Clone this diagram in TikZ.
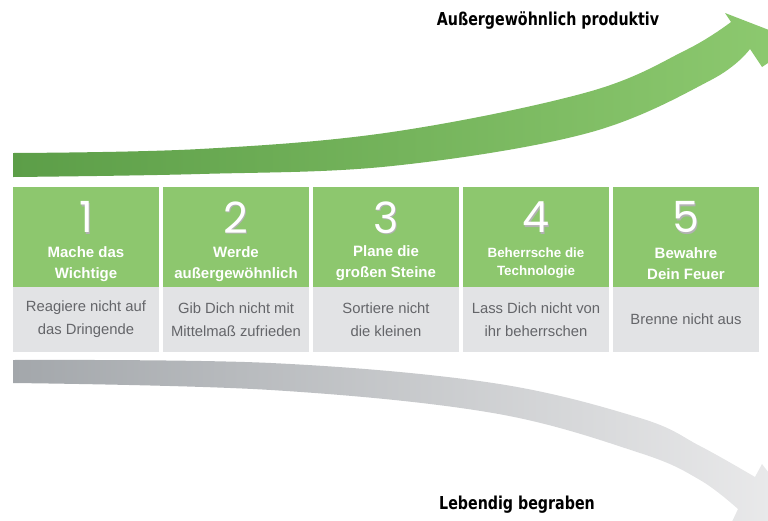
\documentclass[tikz,border=0pt]{standalone}
\usepackage{fontspec}
\setmainfont{Liberation Sans}
\newfontfamily\numfont{Poppins}
\newfontfamily\headfont{DejaVu Sans}[FakeStretch=0.8]
\definecolor{boxgreen}{RGB}{141,199,110}
\definecolor{boxgrey}{RGB}{226,227,229}
\definecolor{greytext}{RGB}{100,101,105}
\definecolor{arrgreenA}{RGB}{92,158,72}
\definecolor{arrgreenB}{RGB}{142,202,112}
\definecolor{arrgreyA}{RGB}{163,167,171}
\definecolor{arrgreyB}{RGB}{236,236,237}
\newcommand{\shadowdigit}[1]{\rlap{\hspace{1.2pt}\raisebox{-1.2pt}{\textcolor{black!30}{#1}}}#1}
\begin{document}
\begin{tikzpicture}[x=1pt,y=-1pt,
  greenbox/.style={fill=boxgreen, minimum width=146pt, minimum height=100pt, inner sep=0pt, draw=none},
  greybox/.style={fill=boxgrey, minimum width=146pt, minimum height=65pt, inner sep=0pt, text=greytext,
     font=\fontsize{14.8}{23}\selectfont, align=center},
  numtxt/.style={text=white, inner sep=0pt, font=\numfont\fontsize{43}{43}\selectfont},
  titletxt/.style={text=white, inner sep=0pt, font=\bfseries\fontsize{15}{21}\selectfont, align=center},
  headtxt/.style={text=black, inner sep=0pt, font=\headfont\bfseries\fontsize{17.8}{18}\selectfont}
]
\useasboundingbox (0,0) rectangle (768,520);
\clip (0,0) rectangle (768,520);

% green rising arrow
\path[left color=arrgreenA, right color=arrgreenB]
  plot[smooth, tension=0.6] coordinates {(13,153) (200,149) (392,132) (588,92) (686,50) (731,22)}
  -- (725,13) -- (800,42) -- (762,67) -- (750,49)
  -- plot[smooth, tension=0.6] coordinates {(750,49) (711,80) (588,133) (392,166) (200,174) (13,177)}
  -- cycle;

% grey falling arrow
\path[left color=arrgreyA, right color=arrgreyB]
  plot[smooth, tension=0.6] coordinates {(13,360) (271,363) (493,383) (640,418) (700,446) (755,477)}
  -- (762,464) -- (805,520) -- (730,526) -- (738,509)
  -- plot[smooth, tension=0.6] coordinates {(738,509) (700,480) (640,453) (493,413) (271,390) (13,383)}
  -- cycle;

% boxes
\foreach \i/\x in {1/86,2/236,3/386,4/536,5/686}{
  \node[greenbox] (g\i) at (\x,237) {};
  \node[numtxt] (n\i) at (\x,218) {\shadowdigit{\i}};
}
\node[titletxt] (t1) at (86,264.5) {Mache das\\Wichtige};
\node[titletxt] (t2) at (236,264.5) {Werde\\außergewöhnlich};
\node[titletxt] (t3) at (386,263) {Plane die\\großen Steine};
\node[titletxt, font=\bfseries\fontsize{13.4}{18}\selectfont] (t4) at (536,263) {Beherrsche die\\Technologie};
\node[titletxt] (t5) at (686,264) {Bewahre\\Dein Feuer};

\node[greybox] (r1) at (86,319.5) {Reagiere nicht auf\\das Dringende};
\node[greybox] (r2) at (236,319.5) {Gib Dich nicht mit\\Mittelmaß zufrieden};
\node[greybox] (r3) at (386,319.5) {Sortiere nicht\\die kleinen};
\node[greybox] (r4) at (536,319.5) {Lass Dich nicht von\\ihr beherrschen};
\node[greybox] (r5) at (686,319.5) {Brenne nicht aus};

% labels
\node[headtxt, anchor=base] (top) at (548,25) {Außergewöhnlich produktiv};
\node[headtxt, anchor=base] (bot) at (517,509) {Lebendig begraben};
\end{tikzpicture}
\end{document}
